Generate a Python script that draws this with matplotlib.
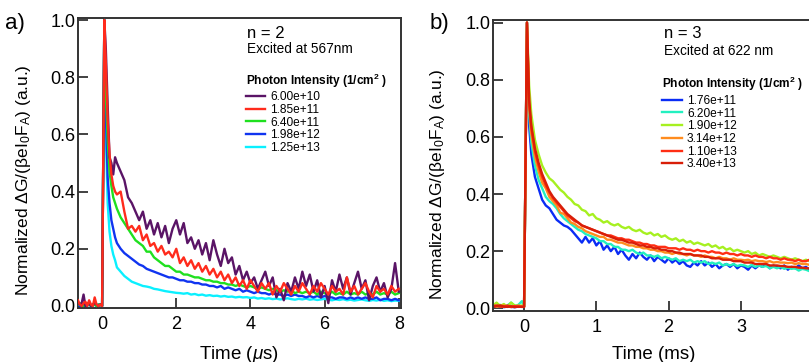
import matplotlib
matplotlib.use("Agg")
import matplotlib.pyplot as plt


plt.rcParams["font.family"] = ["Liberation Sans", "DejaVu Sans"]
plt.rcParams["mathtext.fontset"] = "custom"
plt.rcParams["mathtext.rm"] = "Liberation Sans"
plt.rcParams["mathtext.it"] = "Liberation Sans:italic"
plt.rcParams["mathtext.default"] = "regular"


# ---------------- panel a: n = 2, time in microseconds ----------------
T_A = [
    -0.65, -0.6, -0.55, -0.5, -0.45, -0.4, -0.35, -0.3, -0.25, -0.2, -0.15, -0.1, -0.05,
    0.0, 0.06, 0.1, 0.15, 0.2, 0.25, 0.3, 0.35,
    0.4, 0.5, 0.6, 0.7, 0.8, 0.9, 1.0, 1.1, 1.2, 1.3,
    1.4, 1.5, 1.6, 1.7, 1.8, 1.9, 2.0, 2.1, 2.2, 2.3,
    2.4, 2.5, 2.6, 2.7, 2.8, 2.9, 3.0, 3.1, 3.2, 3.3,
    3.4, 3.5, 3.6, 3.7, 3.8, 3.9, 4.0, 4.1, 4.2, 4.3,
    4.4, 4.5, 4.6, 4.7, 4.8, 4.9, 5.0, 5.1, 5.2, 5.3,
    5.4, 5.5, 5.6, 5.7, 5.8, 5.9, 6.0, 6.1, 6.2, 6.3,
    6.4, 6.5, 6.6, 6.7, 6.8, 6.9, 7.0, 7.1, 7.2, 7.3,
    7.4, 7.5, 7.6, 7.7, 7.8, 7.9, 8.0,
]

A_PURPLE = [
    0.01, 0.005, 0.01, 0.04, 0.0, 0.005, 0.01, 0.0, 0.005, 0.01, 0.005, 0.0, 0.005,
    0.0, 1.0, 0.9, 0.7, 0.52, 0.50, 0.46, 0.52,
    0.50, 0.47, 0.44, 0.38, 0.36, 0.33, 0.30, 0.33, 0.27, 0.30,
    0.25, 0.29, 0.24, 0.28, 0.22, 0.27, 0.30, 0.25, 0.29, 0.22,
    0.24, 0.20, 0.23, 0.18, 0.22, 0.16, 0.23, 0.18, 0.14, 0.20,
    0.15, 0.17, 0.11, 0.14, 0.09, 0.12, 0.08, 0.10, 0.06, 0.09,
    0.12, 0.07, 0.10, 0.03, 0.06, 0.02, 0.08, 0.05, 0.10, 0.06,
    0.12, 0.07, 0.11, 0.05, 0.09, 0.03, 0.07, 0.01, 0.09, 0.05,
    0.11, 0.06, 0.10, 0.04, 0.08, 0.12, 0.06, 0.09, 0.02, 0.07,
    0.10, 0.05, 0.08, 0.03, 0.06, 0.15, 0.05,
]

A_RED = [
    0.02, 0.005, 0.0, 0.01, 0.015, 0.0, 0.02, 0.005, 0.0, 0.03, 0.005, 0.0, 0.005,
    0.0, 1.0, 0.85, 0.65, 0.53, 0.46, 0.42, 0.40,
    0.39, 0.40, 0.33, 0.27, 0.28, 0.26, 0.28, 0.23, 0.25, 0.21,
    0.22, 0.19, 0.21, 0.18, 0.19, 0.17, 0.20, 0.15, 0.17, 0.14,
    0.16, 0.13, 0.15, 0.12, 0.14, 0.11, 0.13, 0.10, 0.12, 0.09,
    0.11, 0.08, 0.10, 0.07, 0.09, 0.06, 0.09, 0.07, 0.05, 0.08,
    0.06, 0.08, 0.04, 0.07, 0.05, 0.08, 0.06, 0.04, 0.07, 0.05,
    0.08, 0.06, 0.04, 0.07, 0.05, 0.08, 0.06, 0.04, 0.07, 0.05,
    0.06, 0.04, 0.10, 0.05, 0.07, 0.04, 0.06, 0.08, 0.05, 0.03,
    0.07, 0.05, 0.06, 0.04, 0.07, 0.05, 0.06,
]

A_GREEN = [
    0.005, 0.01, 0.005, 0.0, 0.005, 0.01, 0.005, 0.0, 0.005, 0.005, 0.0, 0.005, 0.005,
    0.0, 1.0, 0.75, 0.58, 0.47, 0.42, 0.38, 0.36,
    0.34, 0.31, 0.29, 0.27, 0.25, 0.23, 0.22, 0.21, 0.19, 0.19,
    0.17, 0.16, 0.15, 0.14, 0.14, 0.13, 0.12, 0.12, 0.11, 0.11,
    0.105, 0.10, 0.10, 0.095, 0.09, 0.09, 0.085, 0.085, 0.08, 0.08,
    0.075, 0.075, 0.07, 0.075, 0.07, 0.065, 0.07, 0.065, 0.06, 0.065,
    0.06, 0.055, 0.06, 0.055, 0.05, 0.055, 0.05, 0.055, 0.045, 0.05,
    0.045, 0.05, 0.045, 0.05, 0.04, 0.05, 0.045, 0.04, 0.05, 0.04,
    0.045, 0.04, 0.05, 0.04, 0.045, 0.04, 0.05, 0.04, 0.045, 0.04,
    0.05, 0.04, 0.045, 0.04, 0.05, 0.04, 0.045,
]

A_BLUE = [
    0.005, 0.0, 0.005, 0.005, 0.0, 0.005, 0.005, 0.0, 0.005, 0.005, 0.0, 0.005, 0.005,
    0.0, 1.0, 0.68, 0.45, 0.36, 0.30, 0.27, 0.24,
    0.22, 0.20, 0.185, 0.175, 0.165, 0.155, 0.145, 0.14, 0.13, 0.125,
    0.12, 0.115, 0.11, 0.105, 0.10, 0.10, 0.095, 0.09, 0.09, 0.085,
    0.085, 0.08, 0.08, 0.075, 0.075, 0.07, 0.07, 0.065, 0.07, 0.06,
    0.065, 0.06, 0.055, 0.06, 0.05, 0.055, 0.05, 0.045, 0.05, 0.045,
    0.045, 0.04, 0.045, 0.04, 0.04, 0.035, 0.04, 0.035, 0.04, 0.035,
    0.035, 0.03, 0.035, 0.03, 0.035, 0.03, 0.035, 0.03, 0.03, 0.025,
    0.03, 0.03, 0.025, 0.03, 0.025, 0.03, 0.025, 0.03, 0.025, 0.025,
    0.03, 0.02, 0.025, 0.025, 0.02, 0.025, 0.02,
]

A_CYAN = [
    0.0, 0.005, 0.005, 0.0, 0.005, 0.0, 0.005, 0.005, 0.0, 0.005, 0.005, 0.0, 0.005,
    0.0, 1.0, 0.6, 0.36, 0.26, 0.21, 0.18, 0.16,
    0.135, 0.12, 0.105, 0.095, 0.085, 0.08, 0.075, 0.07, 0.068, 0.065,
    0.06, 0.058, 0.055, 0.052, 0.05, 0.048, 0.046, 0.045, 0.043, 0.045,
    0.04, 0.042, 0.038, 0.04, 0.036, 0.038, 0.035, 0.036, 0.033, 0.035,
    0.032, 0.033, 0.03, 0.032, 0.03, 0.031, 0.028, 0.03, 0.026, 0.028,
    0.025, 0.027, 0.024, 0.026, 0.023, 0.025, 0.027, 0.024, 0.022, 0.025,
    0.023, 0.026, 0.022, 0.024, 0.021, 0.023, 0.025, 0.022, 0.02, 0.023,
    0.021, 0.024, 0.02, 0.022, 0.019, 0.021, 0.023, 0.02, 0.018, 0.021,
    0.019, 0.022, 0.018, 0.02, 0.017, 0.019, 0.018,
]

A_LABELS = ["6.00e+10", "1.85e+11", "6.40e+11", "1.98e+12", "1.25e+13"]
A_SERIES = [A_PURPLE, A_RED, A_GREEN, A_BLUE, A_CYAN]
A_COLORS = ["#5A1466", "#FF2B1C", "#1FE01F", "#1034F0", "#0AF0FF"]
A_ZORDER = [3, 5, 2.8, 2.6, 2.4]


# ---------------- panel b: n = 3, time in milliseconds ----------------
T_B = [
    -0.43, -0.38, -0.33, -0.28, -0.23, -0.18, -0.13, -0.08, -0.03, 0.0,
    0.04, 0.07, 0.10, 0.15, 0.20, 0.25, 0.30, 0.35,
    0.40, 0.45, 0.50, 0.55, 0.60, 0.65, 0.70, 0.75, 0.80, 0.85,
    0.90, 0.95, 1.00, 1.05, 1.10, 1.15, 1.20, 1.25, 1.30, 1.35,
    1.40, 1.45, 1.50, 1.55, 1.60, 1.65, 1.70, 1.75, 1.80, 1.85,
    1.90, 1.95, 2.00, 2.05, 2.10, 2.15, 2.20, 2.25, 2.30, 2.35,
    2.40, 2.45, 2.50, 2.55, 2.60, 2.65, 2.70, 2.75, 2.80, 2.85,
    2.90, 2.95, 3.00, 3.05, 3.10, 3.15, 3.20, 3.25, 3.30, 3.35,
    3.40, 3.45, 3.50, 3.55, 3.60, 3.65, 3.70, 3.75, 3.80, 3.85,
    3.90, 3.95, 4.00,
]

B_BLUE = [
    0.005, 0.005, 0.008, 0.004, 0.006, 0.005, 0.004, 0.006, 0.005, 0.005,
    1.0, 0.64, 0.54, 0.46, 0.42, 0.38, 0.36, 0.35,
    0.33, 0.31, 0.30, 0.29, 0.285, 0.275, 0.26, 0.245, 0.23, 0.25,
    0.23, 0.245, 0.22, 0.235, 0.205, 0.22, 0.20, 0.215, 0.19, 0.205,
    0.185, 0.17, 0.19, 0.175, 0.195, 0.18, 0.17, 0.185, 0.165, 0.18,
    0.17, 0.16, 0.175, 0.16, 0.17, 0.155, 0.165, 0.15, 0.145, 0.16,
    0.15, 0.165, 0.15, 0.16, 0.145, 0.155, 0.14, 0.15, 0.155, 0.145,
    0.155, 0.14, 0.15, 0.145, 0.135, 0.15, 0.14, 0.15, 0.145, 0.155,
    0.14, 0.15, 0.145, 0.14, 0.15, 0.135, 0.145, 0.14, 0.15, 0.14,
    0.145, 0.135, 0.14,
]

B_TEAL = [
    0.01, 0.008, 0.012, 0.006, 0.01, 0.02, 0.008, 0.012, 0.025, 0.005,
    1.0, 0.68, 0.58, 0.50, 0.45, 0.42, 0.39, 0.375,
    0.365, 0.35, 0.33, 0.315, 0.305, 0.295, 0.285, 0.275, 0.27, 0.26,
    0.255, 0.25, 0.245, 0.235, 0.235, 0.225, 0.225, 0.215, 0.215, 0.205,
    0.205, 0.20, 0.205, 0.195, 0.19, 0.195, 0.185, 0.185, 0.18, 0.185,
    0.175, 0.18, 0.175, 0.17, 0.175, 0.165, 0.17, 0.165, 0.17, 0.16,
    0.165, 0.16, 0.165, 0.155, 0.16, 0.155, 0.16, 0.15, 0.155, 0.15,
    0.155, 0.148, 0.152, 0.15, 0.145, 0.152, 0.145, 0.15, 0.145, 0.148,
    0.14, 0.145, 0.14, 0.145, 0.138, 0.142, 0.138, 0.14, 0.132, 0.138,
    0.135, 0.13, 0.135,
]

B_GREEN = [
    0.01, 0.02, 0.008, 0.015, 0.005, 0.02, 0.01, 0.008, 0.01, 0.005,
    1.0, 0.78, 0.68, 0.59, 0.54, 0.50, 0.475, 0.455,
    0.445, 0.43, 0.415, 0.405, 0.39, 0.38, 0.365, 0.36, 0.345, 0.34,
    0.325, 0.33, 0.315, 0.31, 0.30, 0.305, 0.295, 0.29, 0.295, 0.285,
    0.28, 0.285, 0.275, 0.27, 0.275, 0.265, 0.26, 0.265, 0.255, 0.26,
    0.25, 0.255, 0.245, 0.24, 0.245, 0.235, 0.24, 0.23, 0.235, 0.225,
    0.23, 0.225, 0.22, 0.225, 0.215, 0.22, 0.21, 0.215, 0.205, 0.21,
    0.20, 0.205, 0.20, 0.195, 0.20, 0.19, 0.195, 0.185, 0.19, 0.185,
    0.18, 0.185, 0.18, 0.175, 0.18, 0.175, 0.17, 0.175, 0.17, 0.165,
    0.17, 0.165, 0.165,
]

B_ORANGE = [
    0.01, 0.005, 0.008, 0.01, 0.006, 0.008, 0.005, 0.01, 0.006, 0.005,
    1.0, 0.70, 0.61, 0.53, 0.48, 0.44, 0.42, 0.39,
    0.375, 0.36, 0.335, 0.33, 0.315, 0.30, 0.295, 0.285, 0.28, 0.27,
    0.265, 0.26, 0.255, 0.25, 0.25, 0.24, 0.24, 0.235, 0.23, 0.23,
    0.225, 0.22, 0.22, 0.215, 0.215, 0.21, 0.21, 0.205, 0.205, 0.20,
    0.20, 0.195, 0.195, 0.19, 0.195, 0.19, 0.19, 0.185, 0.19, 0.185,
    0.185, 0.18, 0.185, 0.18, 0.18, 0.175, 0.18, 0.175, 0.175, 0.17,
    0.175, 0.17, 0.17, 0.168, 0.17, 0.165, 0.168, 0.165, 0.165, 0.162,
    0.165, 0.16, 0.162, 0.16, 0.16, 0.158, 0.16, 0.155, 0.158, 0.155,
    0.155, 0.152, 0.155,
]

B_RED = [
    0.008, 0.01, 0.006, 0.005, 0.01, 0.004, 0.008, 0.005, 0.006, 0.005,
    1.0, 0.72, 0.63, 0.55, 0.50, 0.46, 0.43, 0.405,
    0.385, 0.37, 0.355, 0.34, 0.325, 0.315, 0.305, 0.30, 0.29, 0.285,
    0.28, 0.275, 0.27, 0.265, 0.26, 0.255, 0.255, 0.25, 0.245, 0.245,
    0.24, 0.24, 0.235, 0.23, 0.23, 0.225, 0.225, 0.22, 0.22, 0.215,
    0.215, 0.215, 0.21, 0.21, 0.21, 0.205, 0.21, 0.205, 0.205, 0.20,
    0.205, 0.20, 0.20, 0.195, 0.20, 0.195, 0.195, 0.19, 0.195, 0.19,
    0.19, 0.185, 0.19, 0.185, 0.185, 0.18, 0.185, 0.18, 0.18, 0.175,
    0.18, 0.175, 0.175, 0.17, 0.175, 0.17, 0.17, 0.165, 0.17, 0.165,
    0.165, 0.17, 0.165,
]

B_DARKRED = [
    0.005, 0.008, 0.01, 0.006, 0.005, 0.007, 0.004, 0.006, 0.005, 0.005,
    1.0, 0.73, 0.64, 0.56, 0.51, 0.47, 0.44, 0.41,
    0.39, 0.375, 0.36, 0.345, 0.33, 0.32, 0.31, 0.30, 0.29, 0.285,
    0.28, 0.275, 0.27, 0.265, 0.26, 0.255, 0.25, 0.245, 0.24, 0.24,
    0.235, 0.23, 0.23, 0.225, 0.22, 0.22, 0.215, 0.215, 0.21, 0.21,
    0.205, 0.205, 0.20, 0.20, 0.195, 0.195, 0.19, 0.19, 0.19, 0.185,
    0.185, 0.185, 0.18, 0.18, 0.175, 0.175, 0.175, 0.17, 0.17, 0.17,
    0.165, 0.165, 0.165, 0.16, 0.16, 0.16, 0.155, 0.155, 0.155, 0.155,
    0.15, 0.15, 0.15, 0.148, 0.148, 0.145, 0.145, 0.145, 0.142, 0.142,
    0.14, 0.14, 0.14,
]

B_LABELS = ["1.76e+11", "6.20e+11", "1.90e+12", "3.14e+12", "1.10e+13", "3.40e+13"]
B_SERIES = [B_BLUE, B_TEAL, B_GREEN, B_ORANGE, B_RED, B_DARKRED]
B_COLORS = ["#0A2CF5", "#22F0C0", "#A6F020", "#FF8C1E", "#FF2E14", "#D81E08"]

YLABEL = "Normalized ΔG/(βeI$_0$F$_A$) (a.u.)"
LEGEND_TITLE = "Photon Intensity (1/cm$^2$ )"
SPINE = "#333333"


def style_axes(ax, xticks):
    for side in ["left", "right", "top", "bottom"]:
        ax.spines[side].set_color(SPINE)
        ax.spines[side].set_linewidth(1.4)
    ax.tick_params(
        direction="in",
        length=7,
        width=1.3,
        color=SPINE,
        labelsize=13,
        top=False,
        right=False,
    )
    ax.tick_params(axis="y", pad=2)
    ax.tick_params(axis="x", pad=6)
    ax.set_xticks(xticks)
    ax.set_yticks([0.0, 0.2, 0.4, 0.6, 0.8, 1.0])
    ax.set_yticklabels(["0.0", "0.2", "0.4", "0.6", "0.8", "1.0"])


def add_legend(ax, anchor):
    leg = ax.legend(
        loc="upper left",
        bbox_to_anchor=anchor,
        frameon=False,
        title=LEGEND_TITLE,
        title_fontproperties={"weight": "bold", "size": 8.6},
        alignment="left",
        fontsize=8.6,
        handlelength=1.6,
        handletextpad=0.45,
        labelspacing=0.06,
        borderpad=0.0,
        borderaxespad=0.0,
    )
    leg._legend_box.sep = 1


fig = plt.figure(figsize=(8.09, 3.62), dpi=100)

# panel a
ax_a = fig.add_axes([78 / 809, 54 / 362, 323 / 809, 290 / 362])
for values, label, color, z in zip(A_SERIES, A_LABELS, A_COLORS, A_ZORDER):
    ax_a.plot(T_A, values, color=color, linewidth=1.7, label=label, zorder=z)
ax_a.set_xlim(-0.65, 8.06)
ax_a.set_ylim(-0.007, 1.007)
style_axes(ax_a, [0, 2, 4, 6, 8])
ax_a.set_ylabel(YLABEL, fontsize=12.5)
ax_a.yaxis.set_label_coords(-0.17, 0.44)
ax_a.yaxis.label.set_va("center")
ax_a.set_xlabel("Time ($\\mathit{\\mu}$s)", fontsize=13.5)
ax_a.xaxis.set_label_coords(0.499, -0.16)
ax_a.xaxis.label.set_va("center")
ax_a.text(0.523, 0.948, "n = 2", transform=ax_a.transAxes,
          fontsize=12, va="center", ha="left")
ax_a.text(0.523, 0.893, "Excited at 567nm", transform=ax_a.transAxes,
          fontsize=9.8, va="center", ha="left")
add_legend(ax_a, (0.52, 0.815))

# panel b
ax_b = fig.add_axes([493 / 809, 51.3 / 362, 331 / 809, 290.7 / 362])
for values, label, color in zip(B_SERIES, B_LABELS, B_COLORS):
    ax_b.plot(T_B, values, color=color, linewidth=1.7, label=label)
ax_b.set_xlim(-0.43, 4.15)
ax_b.set_ylim(-0.0084, 1.009)
style_axes(ax_b, [0, 1, 2, 3, 4])
ax_b.set_ylabel(YLABEL, fontsize=12.5)
ax_b.yaxis.set_label_coords(-0.169, 0.436)
ax_b.yaxis.label.set_va("center")
ax_b.set_xlabel("Time (ms)", fontsize=13.5)
ax_b.xaxis.set_label_coords(0.486, -0.152)
ax_b.xaxis.label.set_va("center")
ax_b.text(0.517, 0.952, "n = 3", transform=ax_b.transAxes,
          fontsize=12, va="center", ha="left")
ax_b.text(0.517, 0.893, "Excited at 622 nm", transform=ax_b.transAxes,
          fontsize=9.8, va="center", ha="left")
add_legend(ax_b, (0.512, 0.81))

fig.text(5 / 809, 1 - 24 / 362, "a)", fontsize=16, va="center", ha="left")
fig.text(430 / 809, 1 - 24 / 362, "b)", fontsize=16, va="center", ha="left")

fig.savefig("out.png", dpi=100)
